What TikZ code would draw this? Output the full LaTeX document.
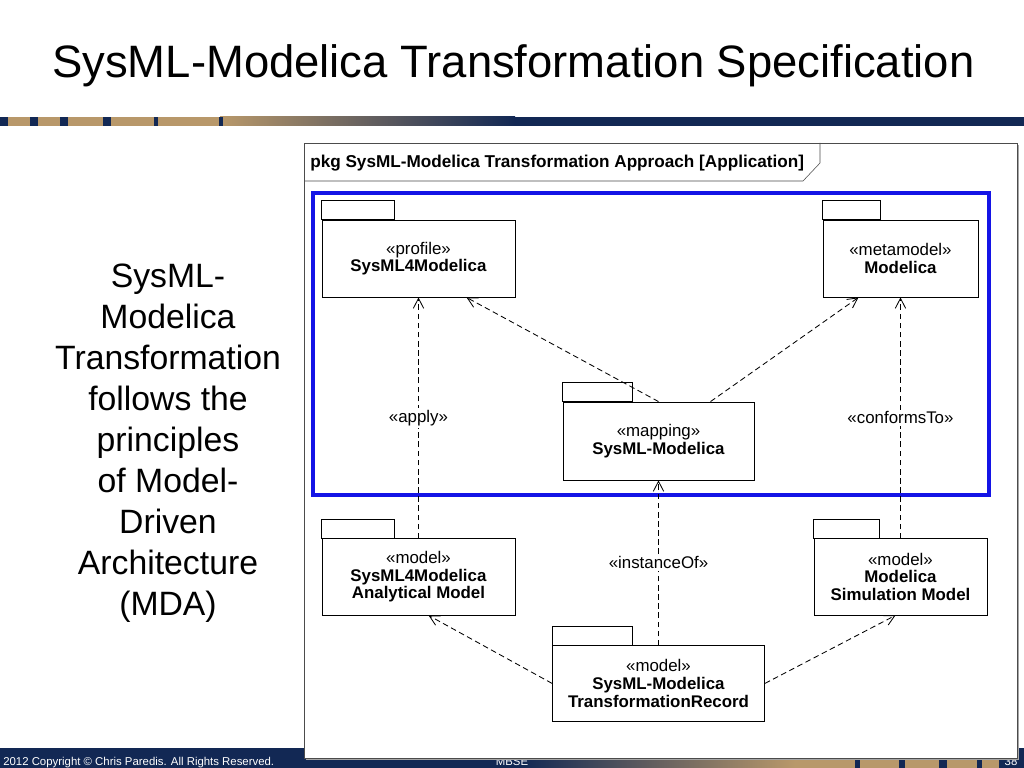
\documentclass[tikz,border=0pt]{standalone}
\usepackage{fontspec}
\setmainfont{Liberation Sans}
\usetikzlibrary{positioning, arrows.meta, calc}
\definecolor{navy}{RGB}{18,40,84}
\definecolor{tan}{RGB}{184,152,106}
\definecolor{frameblue}{RGB}{20,20,230}

\begin{document}
\begin{tikzpicture}[x=0.025cm,y=-0.025cm,>={Straight Barb[length=2.5mm,width=2.6mm]},
	package/.style={draw, rectangle, align=center, inner sep=0pt, line width=0.6pt, font=\fontsize{12}{12.5}\selectfont},
	dep/.style={->, line width=0.6pt, dash pattern=on 4pt off 2.5pt},
	stereo/.style={fill=white, inner sep=1.5pt, font=\fontsize{12}{12}\selectfont}]
		\useasboundingbox (0,0) rectangle (1024,768);

		% footer bar
		\fill[navy] (0,748) rectangle (520,768);
		\shade[left color=navy, right color=tan] (520,748) rectangle (795,768);
		\fill[tan] (795,748) rectangle (1024,768);
		\foreach \a/\b in {855/860, 899/905, 939/947, 977/982, 999/1024}
			\fill[navy] (\a,748) rectangle (\b,768);
		\node[anchor=base west, inner sep=0pt, text=white, font=\fontsize{8.1}{9}\selectfont] (COPY) at (3,765) {2012 Copyright © Chris Paredis. All Rights Reserved.};
		\node[anchor=base, inner sep=0pt, text=white, font=\fontsize{8.1}{9}\selectfont] (COURSE) at (512,765) {MBSE};
		\node[anchor=base, inner sep=0pt, text=white, font=\fontsize{8.1}{9}\selectfont] (PAGE) at (1011,765) {38};

		% title and top bar
		\node[anchor=base west, inner sep=0pt, font=\fontsize{32.3}{38}\selectfont] (TITLE) at (52,78) {SysML-Modelica Transformation Specification};
		\fill[tan] (0,117) rectangle (220,126);
		\shade[left color=tan, right color=navy] (220,117) rectangle (515,126);
		\fill[navy] (515,117) rectangle (1024,126);
		\foreach \a/\b in {0/8, 30/38, 60/68, 103/111, 154/158, 219/223}
			\fill[navy] (\a,117) rectangle (\b,126);

		\node[align=center, font=\fontsize{24}{29.2}\selectfont] (SIDE) at (168,443) {SysML-\\Modelica\\Transformation\\follows the\\principles\\of Model-\\Driven\\Architecture\\(MDA)};

		% diagram frame
		\fill[gray!70] (306,145) rectangle (1019,760);
		\draw[gray!60!black, fill=white] (304,143) rectangle (1017,758);
		\draw[gray!60!black] (304,181) -- (803,181) -- (820,163) -- (820,143);
		\node[anchor=west, inner sep=0pt, font=\bfseries\fontsize{12.2}{12}\selectfont] (HEADER) at (310,163) {pkg SysML-Modelica Transformation Approach [Application]};
		\draw[frameblue, line width=2.8pt] (313,193) rectangle (989,495);

		\node[package, minimum width=4.825cm, minimum height=1.925cm] (PROFILE) at (418.5,258.5) {«profile»\\\textbf{SysML4Modelica}};
		\node[package, minimum width=3.875cm, minimum height=1.925cm, right=7.675cm of PROFILE] (MODELICA) {«metamodel»\\\textbf{Modelica}};
		\node[package, minimum width=4.775cm, minimum height=1.95cm] (MAPPING) at (658.5,441) {«mapping»\\\textbf{SysML-Modelica}};
		\node[package, minimum width=4.825cm, minimum height=1.9cm, below=6.025cm of PROFILE] (ANALYTICAL) {«model»\\\textbf{SysML4Modelica}\\\textbf{Analytical Model}};
		\node[package, minimum width=4.325cm, minimum height=1.9cm, below=6.025cm of MODELICA] (SIMULATION) {«model»\\\textbf{Modelica}\\\textbf{Simulation Model}};
		\node[package, minimum width=5.3cm, minimum height=1.875cm, below=4.125cm of MAPPING] (RECORD) {«model»\\\textbf{SysML-Modelica}\\\textbf{TransformationRecord}};

		\foreach \n/\w in {PROFILE/73, MODELICA/58, MAPPING/70, ANALYTICAL/73, SIMULATION/66, RECORD/80}
			\draw[line width=0.6pt] (\n.north west) rectangle ++(\w,-19);

		\draw	(ANALYTICAL)				edge[dep]	(PROFILE)
				(SIMULATION)				edge[dep]	(MODELICA)
				(RECORD)					edge[dep]	(MAPPING)
				(MAPPING.north)				edge[dep]	([xshift=1.2cm]PROFILE.south)
				([xshift=1.3cm]MAPPING.north)	edge[dep]	([xshift=-1.05cm]MODELICA.south)
				(RECORD.west)				edge[dep]	([xshift=0.25cm]ANALYTICAL.south)
				(RECORD.east)				edge[dep]	([xshift=-0.125cm]SIMULATION.south)
				;
		% stereotype labels over the lines
		\path	(ANALYTICAL) -- node[stereo] (APPLY) {«apply»} (PROFILE)
				(SIMULATION) -- node[stereo] (CONFORMS) {«conformsTo»} (MODELICA)
				(RECORD) -- node[stereo] (INSTANCE) {«instanceOf»} (MAPPING);
	\end{tikzpicture}
\end{document}
